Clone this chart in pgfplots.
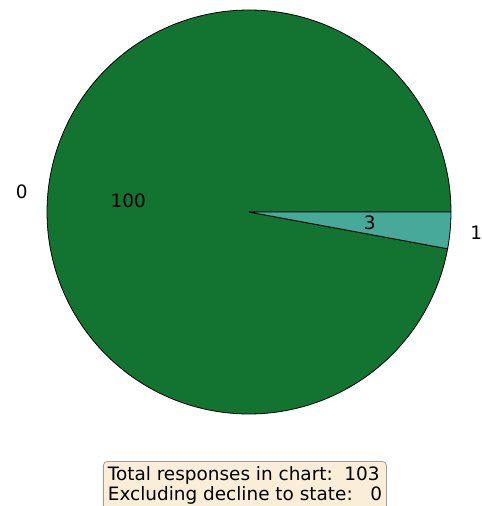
\documentclass[border=0pt]{standalone}
\usepackage{pgfplots}
\pgfplotsset{compat=1.18}
\usepackage{pgfplotstable}
\usepackage{fontspec}
\setmainfont{DejaVu Sans}
\definecolor{pieA}{HTML}{137331}
\definecolor{pieB}{HTML}{46A99A}
\definecolor{boxfill}{HTML}{FAEED9}
\pgfplotstableread{
label value
0 100
1 3
}\piedata
\newcommand\lblfont{\fontsize{18.5}{20.5}\selectfont}
\begin{document}
\begin{tikzpicture}
\pgfplotstablegetelem{0}{value}\of\piedata \let\va\pgfplotsretval
\pgfplotstablegetelem{1}{value}\of\piedata \let\vb\pgfplotsretval
\pgfmathsetmacro\tot{\va+\vb}
\pgfmathsetmacro\fracA{\va/\tot}
\pgfmathsetmacro\aend{360*\fracA}
\pgfmathsetmacro\amidA{\aend/2}
\pgfmathsetmacro\amidB{(\aend+360)/2}
\begin{axis}[scale only axis, width=482bp, height=506bp,
  xmin=-1.2327, xmax=1.1535, ymin=-1.4554, ymax=1.0495,
  hide axis, clip=false]
\addplot[fill=pieA, draw=black, line width=0.8pt, domain=0:\aend, samples=300, variable=\t]
  ({cos(\t)},{sin(\t)}) -- (axis cs:0,0) -- cycle;
\addplot[fill=pieB, draw=black, line width=0.8pt, domain=\aend:360, samples=30, variable=\t]
  ({cos(\t)},{sin(\t)}) -- (axis cs:0,0) -- cycle;
\node[anchor=east, inner sep=0pt, font=\lblfont] at (axis cs:{1.1*cos(\amidA)},{1.1*sin(\amidA)}) {0};
\node[anchor=west, inner sep=0pt, font=\lblfont] at (axis cs:{1.1*cos(\amidB)},{1.1*sin(\amidB)}) {1};
\node[inner sep=0pt, font=\lblfont] at (axis cs:{0.6*cos(\amidA)},{0.6*sin(\amidA)}) {100};
\node[inner sep=0pt, font=\lblfont] at (axis cs:{0.6*cos(\amidB)},{0.6*sin(\amidB)}) {3};
\node[anchor=north west, draw=gray!75, fill=boxfill, rounded corners=4bp, align=left,
  inner xsep=4.5bp, inner ysep=5bp, line width=0.8pt, font=\lblfont] at (axis cs:-0.7228,-1.2327)
  {Total responses in chart:\ \ 103\\Excluding decline to state:\ \ \ 0};
\end{axis}
\pgfresetboundingbox
\useasboundingbox (current axis.south west) rectangle (current axis.north east);
\end{tikzpicture}
\end{document}
